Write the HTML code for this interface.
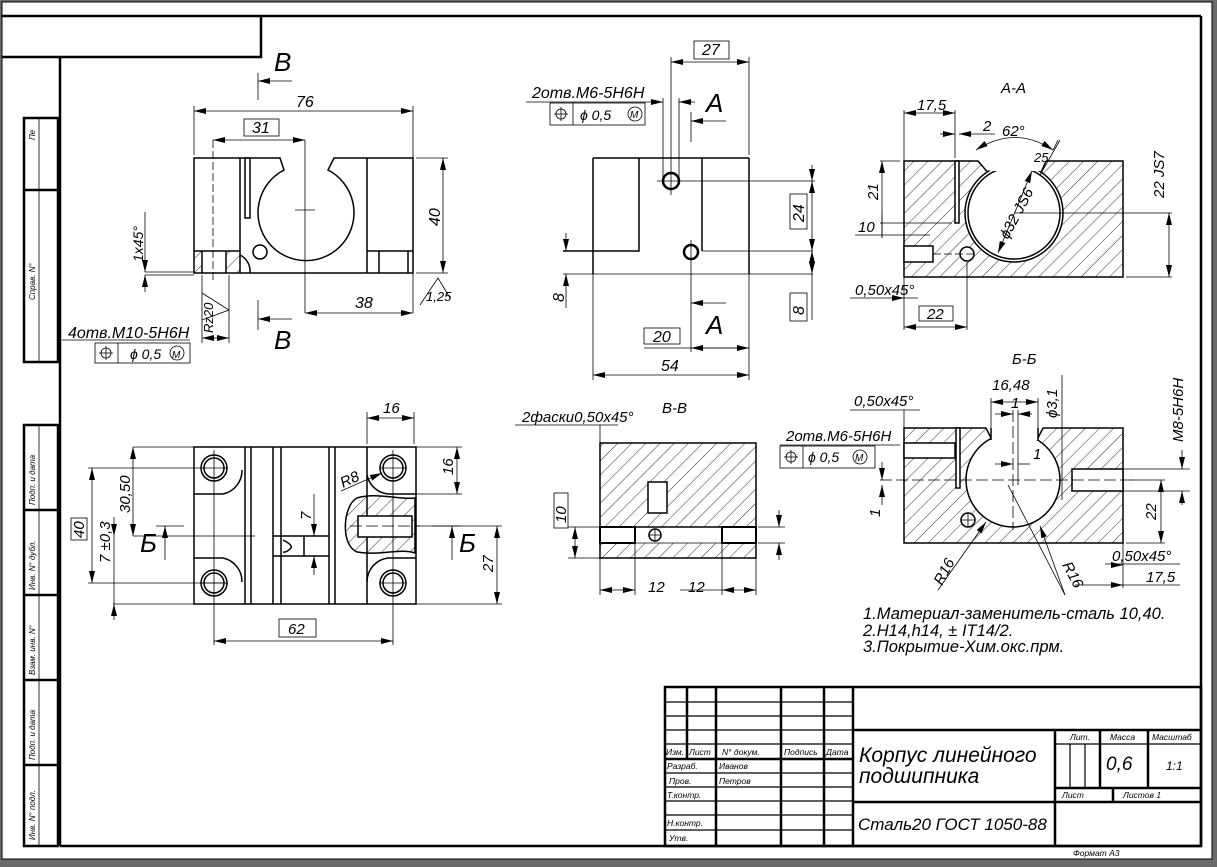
<!DOCTYPE html>
<html><head><meta charset="utf-8"><style>
html,body{margin:0;padding:0;background:#6b6b6b;}
svg{display:block;}
text{font-family:"Liberation Sans","DejaVu Sans",sans-serif;font-style:italic;fill:#000;}
</style></head><body>
<svg width="1217" height="867" viewBox="0 0 1217 867" xmlns="http://www.w3.org/2000/svg">
<defs>
<pattern id="h" patternUnits="userSpaceOnUse" width="10" height="10" patternTransform="rotate(45)">
<rect width="10" height="10" fill="#fff"/><line x1="0" y1="0" x2="0" y2="10" stroke="#000" stroke-width="0.8"/>
</pattern>
<marker id="a" viewBox="0 0 12 6" refX="12" refY="3" markerWidth="12" markerHeight="6" markerUnits="userSpaceOnUse" orient="auto-start-reverse">
<path d="M0,0 L12,3 L0,6 Z" fill="#000"/></marker>
</defs>
<rect x="2" y="2" width="1210" height="857" fill="#fff" stroke="#000" stroke-width="1"/>
<!-- frame -->
<g fill="none" stroke="#000" stroke-width="2.5">
<line x1="2" y1="16" x2="1201" y2="16"/>
<line x1="1201" y1="16" x2="1201" y2="846"/>
<line x1="60" y1="57" x2="60" y2="846"/>
<line x1="60" y1="846" x2="1201" y2="846"/>
<polyline points="2,57 261,57 261,16"/>
<rect x="24" y="118" width="34" height="244"/>
<line x1="24" y1="190" x2="58" y2="190"/>
<rect x="24" y="425" width="34" height="421"/>
<line x1="24" y1="510" x2="58" y2="510"/><line x1="24" y1="595" x2="58" y2="595"/>
<line x1="24" y1="680" x2="58" y2="680"/><line x1="24" y1="765" x2="58" y2="765"/>
</g>
<g stroke="#000" stroke-width="0.8"><line x1="39" y1="118" x2="39" y2="362"/><line x1="39" y1="425" x2="39" y2="846"/></g>
<g font-size="8">
<text transform="translate(35,140) rotate(-90)">Пе</text>
<text transform="translate(35,300) rotate(-90)">Справ. N°</text>
<text transform="translate(35,505) rotate(-90)">Подп. и дата</text>
<text transform="translate(35,590) rotate(-90)">Инв. N° дубл.</text>
<text transform="translate(35,675) rotate(-90)">Взам. инв. N°</text>
<text transform="translate(35,760) rotate(-90)">Подп. и дата</text>
<text transform="translate(35,840) rotate(-90)">Инв. N° подл.</text>
</g>

<!-- title block -->
<g fill="none" stroke="#000" stroke-width="2.5">
<rect x="665" y="687" width="536" height="159"/>
<line x1="687" y1="687" x2="687" y2="759"/>
<line x1="716" y1="687" x2="716" y2="846"/><line x1="781" y1="687" x2="781" y2="846"/>
<line x1="824" y1="687" x2="824" y2="846"/><line x1="853" y1="687" x2="853" y2="846"/>
<line x1="665" y1="759" x2="853" y2="759"/>
<line x1="853" y1="730" x2="1201" y2="730"/>
<line x1="853" y1="802" x2="1201" y2="802"/>
<line x1="1055" y1="730" x2="1055" y2="846"/>
<line x1="1055" y1="788" x2="1201" y2="788"/>
<line x1="1100" y1="730" x2="1100" y2="788"/><line x1="1148" y1="730" x2="1148" y2="788"/>
<line x1="1113" y1="788" x2="1113" y2="802"/>
</g>
<g stroke="#000" stroke-width="1.2">
<line x1="665" y1="702" x2="853" y2="702"/><line x1="665" y1="716" x2="853" y2="716"/>
<line x1="665" y1="730" x2="853" y2="730"/><line x1="665" y1="744" x2="853" y2="744"/>
<line x1="665" y1="773" x2="853" y2="773"/><line x1="665" y1="787" x2="853" y2="787"/>
<line x1="665" y1="801" x2="853" y2="801"/><line x1="665" y1="815" x2="853" y2="815"/>
<line x1="665" y1="830" x2="853" y2="830"/>
<line x1="1055" y1="744" x2="1201" y2="744"/>
<line x1="1070" y1="744" x2="1070" y2="788"/><line x1="1085" y1="744" x2="1085" y2="788"/>
</g>
<g font-size="8.5">
<text x="666" y="755">Изм.</text><text x="689" y="755">Лист</text><text x="722" y="755">N° докум.</text>
<text x="784" y="755">Подпись</text><text x="826" y="755">Дата</text>
<text x="667" y="769">Разраб.</text><text x="719" y="769">Иванов</text>
<text x="669" y="784">Пров.</text><text x="719" y="784">Петров</text>
<text x="667" y="798">Т.контр.</text>
<text x="667" y="826">Н.контр.</text><text x="669" y="841">Утв.</text>
<text x="1070" y="740">Лит.</text><text x="1110" y="740">Масса</text><text x="1152" y="740">Масштаб</text>
<text x="1062" y="798">Лист</text><text x="1123" y="798">Листов  1</text>
<text x="1073" y="856">Формат А3</text>
</g>
<text x="859" y="762" font-size="21">Корпус линейного</text>
<text x="859" y="783" font-size="21">подшипника</text>
<text x="1106" y="770" font-size="19">0,6</text>
<text x="1166" y="770" font-size="12">1:1</text>
<text x="858" y="830" font-size="17">Сталь20 ГОСТ 1050-88</text>

<!-- VIEW 1 -->
<rect x="194" y="251" width="46" height="22" fill="url(#h)"/>
<rect x="202" y="251" width="24" height="22" fill="#fff"/>
<g fill="none" stroke="#000" stroke-width="1.5">
<path d="M194,158 L280,158 L284,170 A48,48 0 1 0 328,170 L334,158 L413,158 L413,273 L194,273 Z"/>
<line x1="240" y1="158" x2="240" y2="273"/>
<rect x="245" y="158" width="5" height="60"/>
<line x1="367" y1="158" x2="367" y2="273"/>
<line x1="367" y1="251" x2="413" y2="251"/><line x1="379" y1="251" x2="379" y2="273"/><line x1="408" y1="251" x2="408" y2="273"/>
<line x1="194" y1="251" x2="240" y2="251"/><line x1="202" y1="251" x2="202" y2="273"/><line x1="226" y1="251" x2="226" y2="273"/>
<circle cx="260" cy="252" r="7"/>
<path d="M240,255 A18,18 0 0 1 250,273"/>
</g>
<g stroke="#000" stroke-width="0.8" fill="none">
<line x1="213" y1="140" x2="213" y2="280" stroke-dasharray="8,3"/>
<line x1="295" y1="210" x2="315" y2="210"/><line x1="305" y1="140" x2="305" y2="313"/>
<line x1="194" y1="106" x2="194" y2="155"/><line x1="413" y1="106" x2="413" y2="313"/>
<line x1="194" y1="111" x2="413" y2="111" marker-start="url(#a)" marker-end="url(#a)"/>
<line x1="213" y1="140" x2="305" y2="140" marker-start="url(#a)" marker-end="url(#a)"/>
<rect x="244" y="119" width="35" height="17"/>
<line x1="416" y1="158" x2="448" y2="158"/><line x1="416" y1="273" x2="448" y2="273"/>
<line x1="443" y1="158" x2="443" y2="273" marker-start="url(#a)" marker-end="url(#a)"/>
<line x1="305" y1="313" x2="413" y2="313" marker-start="url(#a)" marker-end="url(#a)"/>
<line x1="145" y1="272" x2="194" y2="272"/><line x1="145" y1="275" x2="194" y2="275"/>
<line x1="145" y1="212" x2="145" y2="272" marker-end="url(#a)"/><line x1="145" y1="292" x2="145" y2="275" marker-end="url(#a)"/>
<polyline points="420,305 438,278 450,298"/>
<line x1="202" y1="275" x2="202" y2="343"/><line x1="229" y1="275" x2="229" y2="343"/>
<line x1="202" y1="338" x2="229" y2="338" marker-start="url(#a)" marker-end="url(#a)"/>
<polyline points="202,293 229,310 202,320"/>
<line x1="258" y1="73" x2="258" y2="100"/><line x1="292" y1="81" x2="258" y2="81" marker-end="url(#a)"/>
<line x1="258" y1="300" x2="258" y2="330"/><line x1="292" y1="319" x2="258" y2="319" marker-end="url(#a)"/>
<line x1="62" y1="340" x2="190" y2="340"/>
<rect x="95" y="343" width="95" height="20"/><line x1="118" y1="343" x2="118" y2="363"/>
<circle cx="106" cy="353" r="5"/><line x1="99" y1="353" x2="113" y2="353"/><line x1="106" y1="346" x2="106" y2="360"/>
<circle cx="177" cy="353" r="7"/>
</g>
<g font-size="16">
<text x="296" y="107">76</text><text x="252" y="133">31</text><text x="355" y="308">38</text>
<text transform="translate(440,226) rotate(-90)">40</text>
<text transform="translate(143,262) rotate(-90)" font-size="14">1x45°</text>
<text x="426" y="301" font-size="13">1,25</text>
<text transform="translate(213,333) rotate(-90)" font-size="13">Rz20</text>
<text x="68" y="338">4отв.M10-5H6H</text>
<text x="130" y="359" font-size="14">ϕ  0,5</text>
<text x="172" y="358" font-size="10" font-style="normal">M</text>
<text x="274" y="71" font-size="26">B</text><text x="274" y="349" font-size="26">B</text>
</g>

<!-- VIEW 2 -->
<g fill="none" stroke="#000" stroke-width="1.5">
<line x1="593" y1="158" x2="749" y2="158"/>
<line x1="593" y1="158" x2="593" y2="274"/><line x1="749" y1="158" x2="749" y2="274"/>
<polyline points="639,158 639,251 563,251"/>
<polyline points="702,158 702,251"/>
<circle cx="671" cy="181" r="8" stroke-width="2.5"/><circle cx="691" cy="252" r="7" stroke-width="2.5"/>
</g>
<g stroke="#000" stroke-width="0.8" fill="none">
<line x1="563" y1="274" x2="813" y2="274"/><line x1="702" y1="251" x2="813" y2="251"/>
<line x1="593" y1="274" x2="593" y2="380"/><line x1="749" y1="274" x2="749" y2="380"/>
<line x1="749" y1="57" x2="749" y2="155"/>
<line x1="671" y1="57" x2="671" y2="195"/><line x1="657" y1="181" x2="815" y2="181"/>
<line x1="691" y1="240" x2="691" y2="352"/>
<line x1="663" y1="98" x2="663" y2="181"/><line x1="679" y1="98" x2="679" y2="181"/>
<line x1="650" y1="102" x2="663" y2="102" marker-end="url(#a)"/><line x1="695" y1="102" x2="679" y2="102" marker-end="url(#a)"/>
<line x1="671" y1="62" x2="749" y2="62" marker-start="url(#a)" marker-end="url(#a)"/>
<rect x="694" y="41" width="35" height="18"/>
<line x1="812" y1="165" x2="812" y2="181" marker-end="url(#a)"/><line x1="812" y1="181" x2="812" y2="251" marker-start="url(#a)" marker-end="url(#a)"/>
<line x1="812" y1="251" x2="812" y2="274" marker-start="url(#a)" marker-end="url(#a)"/><line x1="812" y1="274" x2="812" y2="320"/>
<rect x="790" y="194" width="17" height="35"/><rect x="790" y="293" width="17" height="28"/>
<line x1="566" y1="233" x2="566" y2="251" marker-end="url(#a)"/><line x1="566" y1="308" x2="566" y2="274" marker-end="url(#a)"/>
<rect x="644" y="328" width="36" height="16"/>
<line x1="644" y1="348" x2="749" y2="348"/><line x1="691" y1="348" x2="749" y2="348" marker-start="url(#a)" marker-end="url(#a)"/>
<line x1="593" y1="375" x2="749" y2="375" marker-start="url(#a)" marker-end="url(#a)"/>
<line x1="526" y1="102" x2="650" y2="102"/>
<rect x="550" y="103" width="95" height="22"/><line x1="573" y1="103" x2="573" y2="125"/>
<circle cx="561" cy="114" r="5"/><line x1="554" y1="114" x2="568" y2="114"/><line x1="561" y1="107" x2="561" y2="121"/>
<circle cx="635" cy="114" r="7"/>
<line x1="691" y1="112" x2="691" y2="142"/><line x1="726" y1="121" x2="691" y2="121" marker-end="url(#a)"/>
<line x1="726" y1="303" x2="691" y2="303" marker-end="url(#a)"/>
</g>
<g font-size="16">
<text x="702" y="55">27</text><text x="532" y="98">2отв.M6-5H6H</text>
<text x="580" y="120" font-size="14">ϕ  0,5</text><text x="630" y="118" font-size="10" font-style="normal">M</text>
<text transform="translate(804,222) rotate(-90)">24</text><text transform="translate(804,315) rotate(-90)">8</text>
<text transform="translate(564,302) rotate(-90)">8</text>
<text x="653" y="342">20</text><text x="661" y="371">54</text>
<text x="706" y="112" font-size="26">A</text><text x="706" y="334" font-size="26">A</text>
</g>

<!-- A-A -->
<rect x="904" y="161" width="219" height="116" fill="url(#h)" stroke="#000" stroke-width="1.5"/>
<g stroke="#000" stroke-width="1.5" fill="#fff">
<polygon points="978,160 990,175 1040,175 1046,160" stroke="none"/>
<line x1="978" y1="161" x2="990" y2="175"/><line x1="1046" y1="161" x2="1040" y2="175"/>
<circle cx="1014" cy="213" r="49"/><circle cx="1014" cy="213" r="46" fill="none"/>
<polygon points="982,160 1046,160 1040,171 990,171" stroke="none"/>
<rect x="955" y="161" width="4" height="62"/>
<rect x="904" y="246" width="29" height="16"/>
<circle cx="967" cy="254" r="7"/>
</g>
<g stroke="#000" stroke-width="0.8" fill="none">
<line x1="933" y1="254" x2="975" y2="254" stroke-dasharray="8,3"/>
<line x1="1014" y1="213" x2="1172" y2="213"/><line x1="1126" y1="277" x2="1172" y2="277"/>
<line x1="1169" y1="213" x2="1169" y2="277" marker-start="url(#a)" marker-end="url(#a)"/>
<line x1="904" y1="110" x2="904" y2="330"/><line x1="955" y1="110" x2="955" y2="158"/>
<line x1="904" y1="113" x2="955" y2="113" marker-start="url(#a)" marker-end="url(#a)"/>
<line x1="940" y1="134" x2="955" y2="134" marker-end="url(#a)"/><line x1="995" y1="134" x2="959" y2="134" marker-end="url(#a)"/>
<path d="M976,150 Q1015,125 1053,150" marker-start="url(#a)" marker-end="url(#a)"/>
<line x1="1053" y1="150" x2="1058" y2="140"/><line x1="1040" y1="175" x2="1060" y2="140"/>
<line x1="880" y1="161" x2="900" y2="161"/><line x1="880" y1="223" x2="952" y2="223"/>
<line x1="882" y1="161" x2="882" y2="238" marker-start="url(#a)"/>
<line x1="855" y1="235" x2="930" y2="235"/><line x1="882" y1="238" x2="882" y2="215"/>
<line x1="998" y1="253" x2="1032" y2="171" marker-start="url(#a)" marker-end="url(#a)"/>
<line x1="850" y1="298" x2="918" y2="298"/><line x1="893" y1="298" x2="904" y2="298" marker-end="url(#a)"/>
<rect x="919" y="306" width="34" height="15"/>
<line x1="967" y1="262" x2="967" y2="330"/>
<line x1="904" y1="327" x2="967" y2="327" marker-start="url(#a)" marker-end="url(#a)"/>
</g>
<g font-size="15">
<text x="1001" y="93">A-A</text><text x="917" y="110">17,5</text><text x="983" y="131">2</text><text x="1002" y="136">62°</text>
<text x="1034" y="162" font-size="13">25</text>
<text transform="translate(878,200) rotate(-90)">21</text><text x="858" y="232">10</text>
<text transform="translate(1008,240) rotate(-62)" font-size="15">ϕ32 JS6</text>
<text transform="translate(1164,198) rotate(-90)">22 JS7</text>
<text x="855" y="295">0,50x45°</text><text x="927" y="319">22</text>
</g>

<!-- B-B -->
<rect x="600" y="443" width="156" height="115" fill="url(#h)" stroke="#000" stroke-width="1.5"/>
<g stroke="#000" stroke-width="1.5" fill="#fff">
<rect x="600" y="527" width="156" height="16" stroke="none"/>
<line x1="600" y1="527" x2="756" y2="527"/><line x1="600" y1="543" x2="756" y2="543" stroke-width="0.8"/>
<rect x="600" y="527" width="35" height="16" stroke-width="2"/><rect x="722" y="527" width="34" height="16" stroke-width="2"/>
<rect x="648" y="482" width="19" height="31"/>
<circle cx="655" cy="535" r="6"/>
</g>
<g stroke="#000" stroke-width="0.8" fill="none">
<line x1="649" y1="535" x2="661" y2="535"/><line x1="655" y1="529" x2="655" y2="541"/>
<line x1="515" y1="425" x2="618" y2="425"/><line x1="600" y1="425" x2="600" y2="443"/>
<rect x="554" y="493" width="14" height="35"/>
<line x1="568" y1="527" x2="600" y2="527"/><line x1="568" y1="558" x2="600" y2="558"/>
<line x1="575" y1="527" x2="575" y2="558" marker-start="url(#a)" marker-end="url(#a)"/>
<line x1="600" y1="558" x2="600" y2="595"/><line x1="635" y1="543" x2="635" y2="595"/>
<line x1="722" y1="543" x2="722" y2="595"/><line x1="756" y1="558" x2="756" y2="595"/>
<line x1="600" y1="590" x2="635" y2="590" marker-start="url(#a)" marker-end="url(#a)"/>
<line x1="680" y1="590" x2="722" y2="590"/><line x1="722" y1="590" x2="756" y2="590" marker-start="url(#a)" marker-end="url(#a)"/>
<line x1="758" y1="527" x2="785" y2="527"/><line x1="758" y1="543" x2="785" y2="543"/>
<line x1="779" y1="510" x2="779" y2="527" marker-end="url(#a)"/><line x1="779" y1="560" x2="779" y2="543" marker-end="url(#a)"/>
</g>
<g font-size="15">
<text x="522" y="422">2фаски0,50x45°</text><text x="662" y="413">B-B</text>
<text transform="translate(566,523) rotate(-90)">10</text>
<text x="648" y="592">12</text><text x="688" y="592">12</text>
</g>

<!-- Б-Б -->
<rect x="904" y="428" width="219" height="115" fill="url(#h)" stroke="#000" stroke-width="1.5"/>
<g stroke="#000" stroke-width="1.5" fill="#fff">
<circle cx="1013" cy="480" r="47"/>
<polygon points="986,427 991,440 1038,440 1043,427" stroke="none"/>
<line x1="986" y1="428" x2="991" y2="438"/><line x1="1043" y1="428" x2="1038" y2="438"/>
<line x1="991" y1="428" x2="991" y2="440"/><line x1="1038" y1="428" x2="1038" y2="440"/>
<rect x="956" y="428" width="4" height="60"/>
<rect x="904" y="443" width="51" height="15"/>
<rect x="1072" y="469" width="51" height="22"/>
<circle cx="968" cy="520" r="7"/>
</g>
<g stroke="#000" stroke-width="0.8" fill="none">
<line x1="961" y1="520" x2="975" y2="520"/><line x1="968" y1="513" x2="968" y2="527"/>
<line x1="880" y1="480" x2="1135" y2="480" stroke-dasharray="12,4"/>
<line x1="1013" y1="410" x2="1013" y2="530" stroke-dasharray="12,4"/><line x1="1018" y1="410" x2="1018" y2="485"/>
<line x1="991" y1="398" x2="991" y2="428"/><line x1="1038" y1="398" x2="1038" y2="428"/>
<line x1="991" y1="402" x2="1038" y2="402" marker-start="url(#a)" marker-end="url(#a)"/>
<line x1="995" y1="414" x2="1013" y2="414" marker-end="url(#a)"/><line x1="1032" y1="414" x2="1018" y2="414" marker-end="url(#a)"/>
<line x1="995" y1="464" x2="1013" y2="464" marker-end="url(#a)"/><line x1="1030" y1="464" x2="1018" y2="464"/>
<line x1="1062" y1="375" x2="1062" y2="500"/>
<line x1="1123" y1="469" x2="1190" y2="469"/><line x1="1123" y1="491" x2="1190" y2="491"/>
<line x1="1182" y1="450" x2="1182" y2="469" marker-end="url(#a)"/><line x1="1182" y1="505" x2="1182" y2="491" marker-end="url(#a)"/>
<line x1="1130" y1="480" x2="1165" y2="480"/><line x1="1126" y1="543" x2="1165" y2="543"/>
<line x1="1161" y1="480" x2="1161" y2="543" marker-start="url(#a)" marker-end="url(#a)"/>
<line x1="1123" y1="491" x2="1123" y2="588"/>
<line x1="1105" y1="564" x2="1180" y2="564"/><line x1="1112" y1="565" x2="1123" y2="565" marker-end="url(#a)"/>
<line x1="1118" y1="585" x2="1180" y2="585"/><line x1="1075" y1="585" x2="1123" y2="585" marker-end="url(#a)"/>
<line x1="850" y1="410" x2="920" y2="410"/><line x1="904" y1="410" x2="904" y2="428"/>
<line x1="780" y1="445" x2="900" y2="445"/>
<rect x="780" y="446" width="95" height="22"/><line x1="803" y1="446" x2="803" y2="468"/>
<circle cx="791" cy="457" r="5"/><line x1="784" y1="457" x2="798" y2="457"/><line x1="791" y1="450" x2="791" y2="464"/>
<circle cx="860" cy="457" r="7"/>
<line x1="882" y1="462" x2="882" y2="480" marker-end="url(#a)"/><line x1="882" y1="505" x2="882" y2="485" marker-end="url(#a)"/>
<line x1="938" y1="590" x2="986" y2="522" marker-end="url(#a)"/>
<line x1="1065" y1="595" x2="1040" y2="526" marker-end="url(#a)"/>
<line x1="1008" y1="485" x2="1065" y2="595"/>
</g>
<g font-size="15">
<text x="1012" y="364">Б-Б</text><text x="992" y="390">16,48</text><text x="1011" y="408">1</text><text x="1033" y="459">1</text>
<text transform="translate(1057,418) rotate(-90)">ϕ3,1</text>
<text transform="translate(1183,442) rotate(-90)">M8-5H6H</text>
<text transform="translate(1156,520) rotate(-90)">22</text>
<text x="1112" y="561">0,50x45°</text><text x="1146" y="582">17,5</text>
<text x="854" y="406">0,50x45°</text>
<text x="786" y="441">2отв.M6-5H6H</text>
<text x="808" y="462" font-size="14">ϕ  0,5</text><text x="855" y="461" font-size="10" font-style="normal">M</text>
<text transform="translate(880,517) rotate(-90)">1</text>
<text transform="translate(942,586) rotate(-62)">R16</text>
<text transform="translate(1062,565) rotate(62)">R16</text>
</g>
<g font-size="16.5">
<text x="863" y="619">1.Материал-заменитель-сталь 10,40.</text>
<text x="863" y="636">2.H14,h14, ± IT14/2.</text>
<text x="863" y="652">3.Покрытие-Хим.окс.прм.</text>
</g>

<!-- VIEW 3 -->
<path d="M357,498 C343,505 340,545 357,552 C380,556 400,548 415,553 L415,498 C400,500 375,492 357,498 Z" fill="url(#h)" stroke="#000" stroke-width="1.5"/>
<g fill="none" stroke="#000" stroke-width="1.5">
<rect x="194" y="447" width="222" height="157"/>
<line x1="245" y1="447" x2="245" y2="604"/><line x1="251" y1="447" x2="251" y2="604"/>
<line x1="273" y1="447" x2="273" y2="604"/><line x1="281" y1="447" x2="281" y2="604"/>
<line x1="329" y1="447" x2="329" y2="604"/><line x1="335" y1="447" x2="335" y2="604"/>
<line x1="367" y1="447" x2="367" y2="604"/>
<line x1="194" y1="494" x2="223" y2="494"/><line x1="194" y1="558" x2="223" y2="558"/>
<path d="M242,470 A24,24 0 0 1 223,494"/><path d="M223,558 A24,24 0 0 1 242,582"/>
<path d="M367,475 A24,24 0 0 0 388,494 L416,494"/><path d="M367,582 A24,24 0 0 1 388,558 L416,558"/>
<line x1="273" y1="536" x2="329" y2="536"/><line x1="273" y1="556" x2="329" y2="556"/><line x1="304" y1="536" x2="304" y2="556"/>
<path d="M283,540 Q293,545 291,548 Q286,553 283,552"/>
<rect x="358" y="516" width="54" height="21" fill="#fff"/>
<circle cx="214" cy="468" r="13"/><circle cx="214" cy="468" r="10"/>
<circle cx="214" cy="583" r="13"/><circle cx="214" cy="583" r="10"/>
<circle cx="393" cy="468" r="13"/><circle cx="393" cy="468" r="10"/>
<circle cx="393" cy="583" r="13"/><circle cx="393" cy="583" r="10"/>
</g>
<g stroke="#000" stroke-width="0.8" fill="none">
<line x1="214" y1="450" x2="214" y2="645"/><line x1="393" y1="450" x2="393" y2="645"/>
<line x1="200" y1="583" x2="228" y2="583"/><line x1="379" y1="583" x2="407" y2="583"/><line x1="379" y1="468" x2="407" y2="468"/>
<line x1="88" y1="468" x2="228" y2="468"/><line x1="88" y1="583" x2="228" y2="583"/>
<line x1="133" y1="447" x2="194" y2="447"/><line x1="113" y1="604" x2="194" y2="604"/>
<line x1="133" y1="536" x2="255" y2="536"/><line x1="350" y1="526" x2="420" y2="526" stroke-dasharray="12,4"/>
<line x1="92" y1="468" x2="92" y2="583" marker-start="url(#a)" marker-end="url(#a)"/>
<line x1="133" y1="447" x2="133" y2="536" marker-start="url(#a)" marker-end="url(#a)"/>
<line x1="114" y1="517" x2="114" y2="536" marker-end="url(#a)"/><line x1="114" y1="620" x2="114" y2="604" marker-end="url(#a)"/>
<line x1="114" y1="536" x2="114" y2="604"/>
<line x1="156" y1="526" x2="184" y2="526"/><line x1="165" y1="560" x2="165" y2="526" marker-end="url(#a)"/>
<line x1="432" y1="526" x2="460" y2="526"/><line x1="452" y1="560" x2="452" y2="526" marker-end="url(#a)"/>
<rect x="71" y="518" width="16" height="22"/>
<line x1="367" y1="412" x2="367" y2="444"/><line x1="414" y1="412" x2="414" y2="444"/>
<line x1="367" y1="418" x2="414" y2="418" marker-start="url(#a)" marker-end="url(#a)"/>
<line x1="416" y1="447" x2="462" y2="447"/><line x1="416" y1="494" x2="462" y2="494"/>
<line x1="457" y1="447" x2="457" y2="494" marker-start="url(#a)" marker-end="url(#a)"/>
<line x1="416" y1="526" x2="502" y2="526"/><line x1="416" y1="604" x2="502" y2="604"/>
<line x1="497" y1="526" x2="497" y2="604" marker-start="url(#a)" marker-end="url(#a)"/>
<line x1="214" y1="641" x2="393" y2="641" marker-start="url(#a)" marker-end="url(#a)"/>
<rect x="279" y="619" width="37" height="18"/>
<line x1="314" y1="494" x2="314" y2="536" marker-end="url(#a)"/><line x1="314" y1="575" x2="314" y2="556" marker-end="url(#a)"/>
<line x1="341" y1="491" x2="382" y2="473" marker-end="url(#a)"/>
</g>
<g font-size="15">
<text x="383" y="413">16</text><text transform="translate(453,475) rotate(-90)">16</text>
<text transform="translate(84,538) rotate(-90)">40</text>
<text transform="translate(130,513) rotate(-90)">30,50</text>
<text transform="translate(110,563) rotate(-90)">7 ±0,3</text>
<text transform="translate(311,520) rotate(-90)">7</text>
<text transform="translate(493,572) rotate(-90)">27</text>
<text x="288" y="634">62</text>
<text transform="translate(343,488) rotate(-25)">R8</text>
<text x="140" y="552" font-size="26">Б</text><text x="459" y="552" font-size="26">Б</text>
</g>
</svg>
</body></html>
